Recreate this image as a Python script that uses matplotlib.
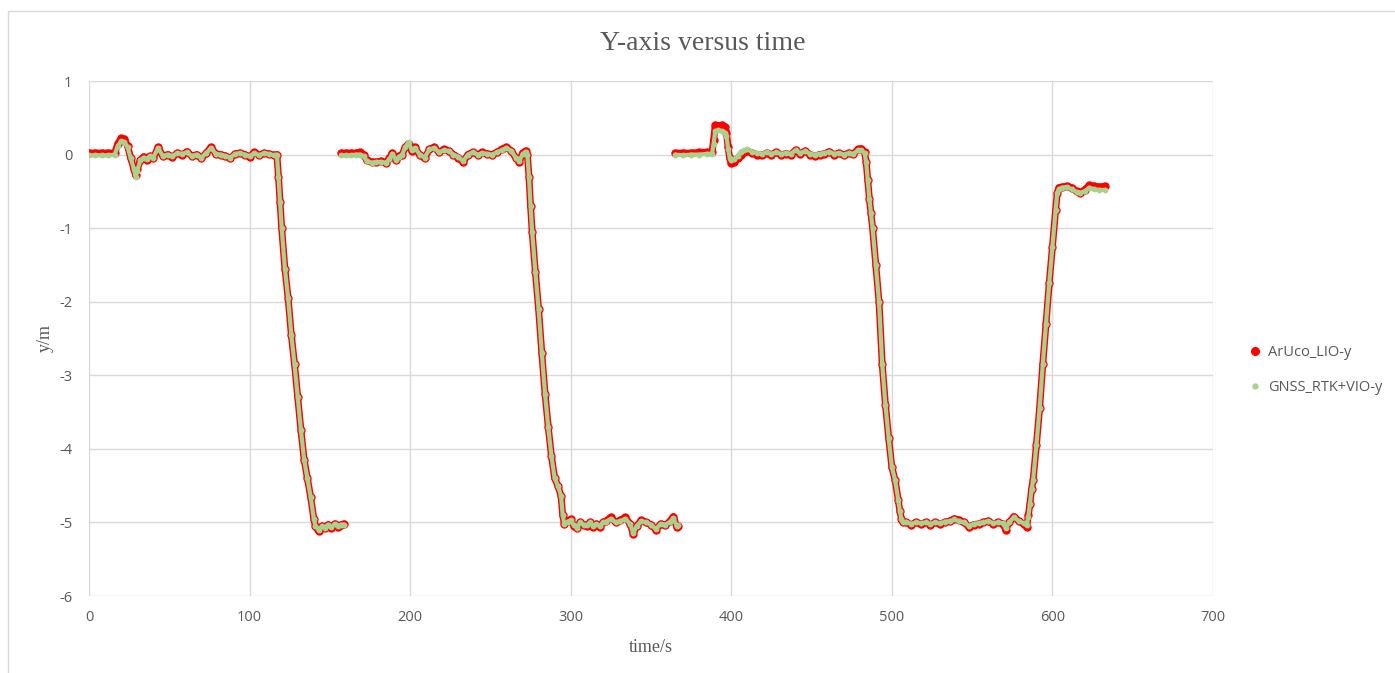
import numpy as np
import matplotlib
matplotlib.use("Agg")
import matplotlib.pyplot as plt
from matplotlib.lines import Line2D
from matplotlib.patches import Rectangle

# ---------------- data ----------------
run1_t = [0, 4, 8, 12, 16, 18, 20, 22, 24, 26, 28, 29, 30, 32, 34, 36, 38, 40, 43, 46, 49, 52, 55,
          58, 61, 64, 67, 70, 73, 76, 79, 82, 85, 88, 91, 94, 97, 100, 103, 106, 109, 112, 115, 117,
          118, 119, 120, 122, 124, 126, 128, 130, 132, 134, 136, 138, 140, 141, 143, 145, 147, 149,
          151, 153, 155, 157, 159]
run1_aruco = [0.02, 0.02, 0.02, 0.02, 0.02, 0.15, 0.22, 0.21, 0.12, -0.05, -0.2, -0.28, -0.2, -0.08,
              -0.03, -0.07, -0.02, -0.05, 0.1, -0.02, 0.0, -0.03, 0.02, 0.0, 0.04, -0.02, 0.0, -0.05,
              0.02, 0.1, 0.01, 0.0, -0.02, -0.05, 0.01, 0.02, 0.0, -0.03, 0.03, -0.01, 0.02, 0.01,
              -0.01, 0.0, -0.3, -0.65, -1.0, -1.55, -1.95, -2.45, -2.85, -3.3, -3.75, -4.15, -4.4,
              -4.65, -4.95, -5.05, -5.12, -5.05, -5.08, -5.03, -5.07, -5.02, -5.06, -5.03, -5.02]
run1_gnss = [-0.01, -0.01, -0.01, -0.01, 0.0, 0.12, 0.18, 0.17, 0.1, -0.05, -0.2, -0.3, -0.22,
             -0.08, -0.04, -0.06, -0.02, -0.04, 0.09, -0.02, 0.0, -0.02, 0.02, 0.01, 0.03, -0.02,
             0.0, -0.04, 0.02, 0.09, 0.01, 0.0, -0.02, -0.04, 0.01, 0.02, 0.0, -0.02, 0.02, -0.01,
             0.02, 0.01, -0.01, 0.0, -0.3, -0.65, -1.0, -1.55, -1.95, -2.45, -2.85, -3.3, -3.75,
             -4.15, -4.4, -4.65, -4.95, -5.05, -5.1, -5.05, -5.07, -5.03, -5.06, -5.02, -5.05,
             -5.03, -5.03]

run2_t = [157, 160, 163, 166, 169, 171, 173, 176, 179, 182, 185, 187, 189, 191, 193, 195, 197, 199,
          201, 203, 206, 209, 212, 215, 218, 221, 224, 227, 230, 233, 236, 239, 242, 245, 248, 251,
          254, 257, 260, 263, 266, 268, 270, 272, 273, 274, 275, 276, 278, 280, 282, 284, 286, 288,
          290, 292, 294, 295, 296, 298, 300, 302, 304, 306, 308, 310, 312, 314, 316, 318, 320, 322,
          325, 328, 331, 334, 337, 339, 341, 344, 347, 350, 353, 356, 359, 362, 364, 366, 367]
run2_aruco = [0.02, 0.02, 0.02, 0.02, 0.03, 0.0, -0.08, -0.1, -0.1, -0.09, -0.11, -0.05, 0.02,
              -0.08, -0.02, 0.0, 0.1, 0.15, 0.05, 0.1, -0.01, -0.05, 0.07, 0.1, 0.03, 0.07, 0.05,
              0.0, -0.04, -0.1, 0.0, 0.03, 0.0, 0.03, 0.01, 0.0, 0.03, 0.07, 0.1, 0.05, -0.05, -0.1,
              0.02, 0.05, 0.0, -0.3, -0.7, -1.05, -1.6, -2.1, -2.7, -3.25, -3.7, -4.1, -4.4, -4.5,
              -4.64, -4.9, -5.02, -4.98, -4.96, -5.05, -5.08, -5.0, -5.03, -5.05, -5.0, -5.06,
              -5.02, -5.06, -5.0, -4.98, -4.93, -5.0, -4.97, -4.93, -5.02, -5.16, -5.05, -4.97,
              -5.0, -5.03, -5.1, -5.02, -5.04, -4.98, -4.92, -5.06, -5.05]
run2_gnss = [-0.01, -0.01, -0.01, 0.0, 0.0, -0.02, -0.09, -0.11, -0.1, -0.1, -0.11, -0.06, 0.01,
             -0.07, -0.03, 0.0, 0.1, 0.17, 0.06, 0.09, 0.0, -0.04, 0.07, 0.09, 0.03, 0.06, 0.05,
             0.0, -0.03, -0.09, 0.0, 0.03, 0.0, 0.02, 0.01, 0.0, 0.03, 0.06, 0.09, 0.05, -0.05,
             -0.09, 0.01, 0.04, 0.0, -0.3, -0.7, -1.05, -1.6, -2.1, -2.7, -3.25, -3.7, -4.1, -4.4,
             -4.5, -4.64, -4.9, -5.02, -4.99, -4.97, -5.04, -5.07, -5.0, -5.03, -5.04, -5.0,
             -5.05, -5.02, -5.05, -5.0, -4.99, -4.95, -5.0, -4.98, -4.95, -5.02, -5.15, -5.05,
             -4.98, -5.0, -5.03, -5.09, -5.02, -5.03, -4.99, -4.94, -5.05, -5.04]

run3_t = [365, 370, 375, 380, 385, 388, 389, 390, 392, 394, 396, 397, 398, 399, 400, 402, 404, 406,
          408, 410, 413, 416, 419, 422, 425, 428, 431, 434, 437, 440, 443, 446, 449, 452, 455, 458,
          461, 464, 467, 470, 473, 476, 479, 481, 483, 484, 485, 486, 487, 488, 490, 492, 494, 496,
          498, 500, 502, 504, 505, 506, 507, 509, 512, 515, 518, 521, 524, 527, 530, 533, 536, 539,
          542, 545, 548, 551, 554, 557, 560, 563, 566, 569, 571, 573, 576, 579, 582, 584, 585, 586,
          587, 588, 590, 592, 594, 596, 598, 600, 602, 603, 604, 606, 609, 612, 615, 617, 620, 623,
          626, 629, 633]
run3_aruco = [0.02, 0.02, 0.02, 0.03, 0.03, 0.03, 0.2, 0.4, 0.39, 0.4, 0.38, 0.3, 0.1, -0.05, -0.12,
              -0.1, -0.05, 0.0, 0.03, 0.05, 0.02, 0.0, -0.01, 0.02, 0.0, 0.03, 0.0, 0.01, 0.0, 0.06,
              0.01, 0.05, 0.0, -0.02, 0.0, 0.01, 0.04, 0.0, 0.02, -0.01, 0.02, 0.01, 0.07, 0.08,
              0.03, -0.1, -0.35, -0.6, -0.8, -1.0, -1.5, -2.0, -2.85, -3.4, -3.85, -4.25, -4.42,
              -4.7, -4.85, -4.95, -5.0, -5.0, -5.03, -5.0, -5.02, -5.0, -5.03, -5.0, -5.02, -5.0,
              -4.98, -4.95, -4.97, -5.0, -5.06, -5.03, -5.02, -5.0, -4.98, -5.02, -5.0, -5.02, -5.1,
              -5.0, -4.92, -4.98, -5.02, -5.06, -4.9, -4.75, -4.55, -4.42, -3.95, -3.45, -2.85,
              -2.3, -1.75, -1.25, -0.75, -0.52, -0.45, -0.44, -0.43, -0.45, -0.5, -0.52, -0.48,
              -0.42, -0.43, -0.44, -0.43]
run3_gnss = [0.0, -0.01, 0.0, 0.0, 0.01, 0.01, 0.15, 0.32, 0.33, 0.32, 0.3, 0.25, 0.08, -0.04,
             -0.08, -0.06, -0.02, 0.04, 0.06, 0.07, 0.04, 0.02, 0.01, 0.03, 0.01, 0.03, 0.01, 0.02,
             0.01, 0.06, 0.02, 0.05, 0.01, 0.0, 0.01, 0.02, 0.04, 0.01, 0.02, 0.0, 0.02, 0.01, 0.06,
             0.06, 0.02, -0.1, -0.35, -0.6, -0.8, -1.0, -1.5, -2.0, -2.85, -3.4, -3.85, -4.25,
             -4.42, -4.7, -4.85, -4.96, -5.0, -4.99, -5.02, -5.0, -5.01, -5.0, -5.02, -5.0, -5.01,
             -4.99, -4.98, -4.96, -4.98, -5.0, -5.05, -5.02, -5.01, -5.0, -4.98, -5.01, -5.0,
             -5.01, -5.08, -5.0, -4.93, -4.98, -5.01, -5.04, -4.92, -4.75, -4.55, -4.42, -3.95,
             -3.45, -2.85, -2.3, -1.75, -1.25, -0.75, -0.52, -0.47, -0.45, -0.44, -0.47, -0.51,
             -0.52, -0.5, -0.45, -0.47, -0.48, -0.48]

x_ticks = [0, 100, 200, 300, 400, 500, 600, 700]
y_ticks = [1, 0, -1, -2, -3, -4, -5, -6]

series_names = ["ArUco_LIO-y", "GNSS_RTK+VIO-y"]
red = "#FF0000"
green = "#A9D18E"
grid_c = "#D9D9D9"
text_c = "#595959"

# ---------------- figure ----------------
fig = plt.figure(figsize=(13.95, 6.73), dpi=100)
fig.patch.set_facecolor("white")
# outer chart border
fig.patches.append(Rectangle((8 / 1395, -0.01), 1.5, (673 - 11) / 673 + 0.01,
                             transform=fig.transFigure, fill=False, edgecolor=grid_c,
                             linewidth=1.0))

ax = fig.add_axes([89 / 1395, 77 / 673, (1213 - 89) / 1395, (596 - 81) / 673])
ax.set_xlim(0, 700)
ax.set_ylim(-6, 1)
ax.set_xticks(x_ticks)
ax.set_yticks(y_ticks)
ax.grid(True, color=grid_c, linewidth=1.0)
ax.set_axisbelow(True)
for s in ax.spines.values():
    s.set_visible(False)
ax.tick_params(length=0, labelsize=10.5, colors=text_c, pad=10)
ax.tick_params(axis="y", pad=12)
for lab in ax.get_xticklabels() + ax.get_yticklabels():
    lab.set_fontfamily("Open Sans")
ax.set_yticklabels([f"{v}" for v in y_ticks])

runs = [(run1_t, run1_aruco, run1_gnss), (run2_t, run2_aruco, run2_gnss),
        (run3_t, run3_aruco, run3_gnss)]
for t, a, g in runs:
    ax.plot(t, a, color=red, lw=5.0, marker="o", ms=5.0, solid_capstyle="round",
            solid_joinstyle="round", zorder=3)
for t, a, g in runs:
    ax.plot(t, g, color=green, lw=3.0, marker="o", ms=3.2, solid_capstyle="round",
            solid_joinstyle="round", zorder=4)

fig.text(703 / 1395, 1 - 44 / 673, "Y-axis versus time", fontsize=20,
         family="Liberation Serif", color=text_c, ha="center", va="center")
ax.set_xlabel("time/s", fontsize=13, family="Liberation Serif", color=text_c, labelpad=10)
ax.set_ylabel("y/m", fontsize=13, family="Liberation Serif", color=text_c, labelpad=4)

handles = [Line2D([], [], linestyle="none", marker="o", ms=5.5, color=red),
           Line2D([], [], linestyle="none", marker="o", ms=3.5, color=green)]
leg = fig.legend(handles, series_names, loc="center left",
                 bbox_to_anchor=(1236 / 1395, 1 - 370 / 673), frameon=False,
                 handlelength=0.8, handletextpad=0.5, labelspacing=1.4,
                 prop={"family": "Open Sans", "size": 10.5})
for txt in leg.get_texts():
    txt.set_color(text_c)

fig.savefig("out.png", dpi=100, facecolor="white")
